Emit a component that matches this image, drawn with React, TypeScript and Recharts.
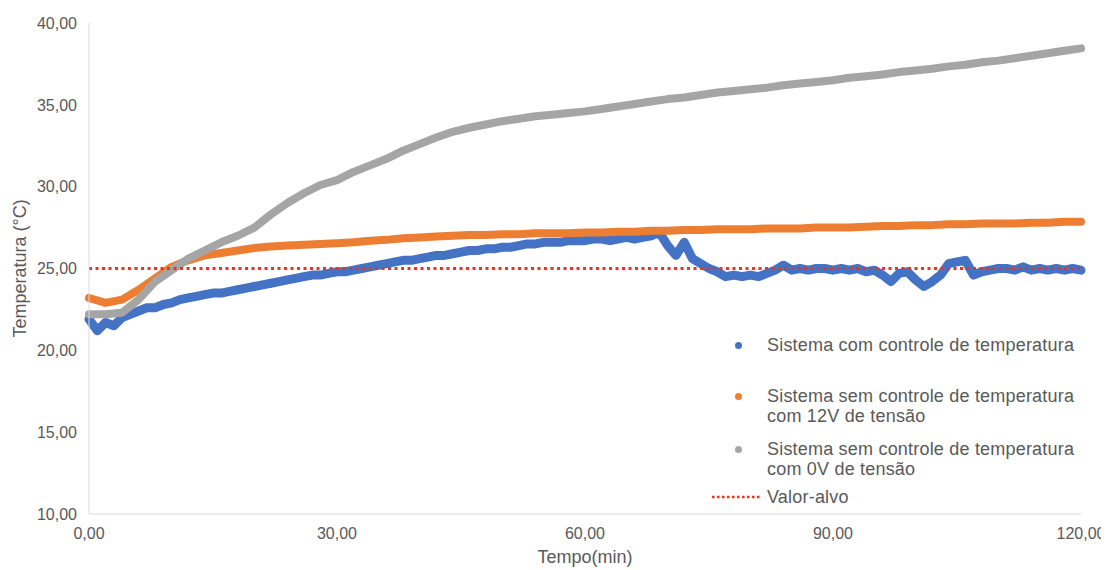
import { LineChart, Line, XAxis, YAxis, Label } from "recharts";

// tempo (min) das leituras
const minutos1 = [
  0, 1, 2, 3, 4, 5, 6, 7, 8, 9, 10, 11, 12, 13, 14, 15, 16, 17, 18, 19, 20,
  21, 22, 23, 24, 25, 26, 27, 28, 29, 30, 31, 32, 33, 34, 35, 36, 37, 38, 39, 40,
  41, 42, 43, 44, 45, 46, 47, 48, 49, 50, 51, 52, 53, 54, 55, 56, 57, 58, 59, 60,
  61, 62, 63, 64, 65, 66, 67, 68, 69, 70, 71, 72, 73, 74, 75, 76, 77, 78, 79, 80,
  81, 82, 83, 84, 85, 86, 87, 88, 89, 90, 91, 92, 93, 94, 95, 96, 97, 98, 99, 100,
  101, 102, 103, 104, 105, 106, 107, 108, 109, 110, 111, 112, 113, 114, 115, 116, 117, 118, 119, 120,
];
const minutos2 = [
  0, 2, 4, 6, 8, 10, 12, 14, 16, 18, 20, 22, 24, 26, 28, 30, 32, 34, 36, 38, 40,
  42, 44, 46, 48, 50, 52, 54, 56, 58, 60, 62, 64, 66, 68, 70, 72, 74, 76, 78, 80,
  82, 84, 86, 88, 90, 92, 94, 96, 98, 100, 102, 104, 106, 108, 110, 112, 114, 116, 118, 120,
];

// Sistema com controle de temperatura (a cada 1 min)
const comControle = [
  21.9, 21.2, 21.7, 21.5, 22.0, 22.2, 22.4, 22.6, 22.6, 22.8, 22.9,
  23.1, 23.2, 23.3, 23.4, 23.5, 23.5, 23.6, 23.7, 23.8, 23.9,
  24.0, 24.1, 24.2, 24.3, 24.4, 24.5, 24.6, 24.6, 24.7, 24.8,
  24.8, 24.9, 25.0, 25.1, 25.2, 25.3, 25.4, 25.5, 25.5, 25.6,
  25.7, 25.8, 25.8, 25.9, 26.0, 26.1, 26.1, 26.2, 26.2, 26.3,
  26.3, 26.4, 26.5, 26.5, 26.6, 26.6, 26.6, 26.7, 26.7, 26.7,
  26.8, 26.8, 26.7, 26.8, 26.9, 26.8, 26.9, 27.0, 27.2, 26.4,
  25.8, 26.6, 25.6, 25.3, 25.0, 24.8, 24.5, 24.6, 24.5, 24.6,
  24.5, 24.7, 24.9, 25.2, 24.9, 25.0, 24.9, 25.0, 25.0, 24.9,
  25.0, 24.9, 25.0, 24.8, 24.9, 24.6, 24.2, 24.7, 24.8, 24.3,
  23.9, 24.2, 24.6, 25.3, 25.4, 25.5, 24.6, 24.8, 24.9, 25.0,
  25.0, 24.9, 25.1, 24.9, 25.0, 24.9, 25.0, 24.9, 25.0, 24.9,
];

// Sistema sem controle, 12V (a cada 2 min)
const semControle12V = [
  23.2, 22.9, 23.1, 23.7, 24.4, 25.1, 25.5, 25.8, 25.95, 26.1, 26.25,
  26.35, 26.4, 26.45, 26.5, 26.55, 26.6, 26.7, 26.75, 26.85, 26.9,
  26.95, 27.0, 27.05, 27.05, 27.1, 27.1, 27.15, 27.15, 27.15, 27.2,
  27.2, 27.25, 27.25, 27.3, 27.3, 27.35, 27.35, 27.4, 27.4, 27.4,
  27.45, 27.45, 27.45, 27.5, 27.5, 27.5, 27.55, 27.6, 27.6, 27.65,
  27.65, 27.7, 27.7, 27.75, 27.75, 27.75, 27.8, 27.8, 27.85, 27.85,
];

// Sistema sem controle, 0V (a cada 2 min)
const semControle0V = [
  22.2, 22.2, 22.3, 23.1, 24.2, 24.9, 25.6, 26.1, 26.6, 27.0, 27.5,
  28.3, 29.0, 29.6, 30.1, 30.4, 30.9, 31.3, 31.7, 32.2, 32.6,
  33.0, 33.35, 33.6, 33.8, 34.0, 34.15, 34.3, 34.4, 34.5, 34.6,
  34.75, 34.9, 35.05, 35.2, 35.35, 35.45, 35.6, 35.75, 35.85, 35.95,
  36.05, 36.2, 36.3, 36.4, 36.5, 36.65, 36.75, 36.85, 37.0, 37.1,
  37.2, 37.35, 37.45, 37.6, 37.7, 37.85, 38.0, 38.15, 38.3, 38.45,
];

const alvoTempo = [0, 120];
const alvoValor = [25, 25];

const ticksX = [0, 30, 60, 90, 120];
const ticksY = [10, 15, 20, 25, 30, 35, 40];

const nomes = [
  ["Sistema com controle de temperatura"],
  ["Sistema sem controle de temperatura", "com 12V de tensão"],
  ["Sistema sem controle de temperatura", "com 0V de tensão"],
  ["Valor-alvo"],
];
const cores = ["#4472C4", "#ED7D31", "#A5A5A5", "#F2301E"];

const dadosAzul = minutos1.map((t, i) => ({ t, v: comControle[i] }));
const dadosLaranja = minutos2.map((t, i) => ({ t, v: semControle12V[i] }));
const dadosCinza = minutos2.map((t, i) => ({ t, v: semControle0V[i] }));
const dadosAlvo = alvoTempo.map((t, i) => ({ t, v: alvoValor[i] }));

const FONT = '"Liberation Sans", Arial, sans-serif';
const TEXT = "#595959";
const fmt = (v: number) => v.toFixed(2).replace(".", ",");

function Legenda() {
  const espacos = [0, 31, 13, 8];
  return (
    <div
      style={{
        position: "absolute",
        left: 704,
        top: 327,
        fontFamily: FONT,
        fontSize: 18,
        letterSpacing: 0.2,
        color: TEXT,
        lineHeight: "20px",
      }}
    >
      {nomes.map((linhas, i) => (
        <div key={i} style={{ display: "flex", marginTop: espacos[i] }}>
          <div style={{ width: 55, height: 20, position: "relative", flexShrink: 0 }}>
            {i < 3 ? (
              <span
                style={{
                  position: "absolute",
                  left: 23,
                  top: 7,
                  width: 7,
                  height: 7,
                  borderRadius: "50%",
                  background: cores[i],
                }}
              />
            ) : (
              <svg width={48} height={20} style={{ position: "absolute", left: 0, top: 0 }}>
                <line x1={0} x2={48} y1={10} y2={10} stroke={cores[i]} strokeWidth={2.5} strokeDasharray="2.5 2.5" />
              </svg>
            )}
          </div>
          <div style={{ whiteSpace: "nowrap" }}>
            {linhas.map((l, j) => (
              <div key={j}>{l}</div>
            ))}
          </div>
        </div>
      ))}
    </div>
  );
}

export default function App() {
  const serie = {
    type: "linear" as const,
    dataKey: "v",
    dot: false,
    strokeWidth: 8,
    strokeLinecap: "round" as const,
    strokeLinejoin: "round" as const,
    isAnimationActive: false,
  };
  return (
    <div style={{ position: "relative", width: 1101, height: 562, background: "#fff" }}>
      <LineChart width={1101} height={562} margin={{ top: 15, right: 28, left: 0, bottom: 0 }}>
        <XAxis
          dataKey="t"
          type="number"
          domain={[0, 120]}
          ticks={ticksX}
          tickFormatter={fmt}
          height={56}
          tickSize={0}
          tickMargin={14}
          axisLine={{ stroke: "#D9D9D9" }}
          tickLine={false}
          tick={{ fill: TEXT, fontSize: 16, fontFamily: FONT }}
          allowDuplicatedCategory={false}
        >
          <Label
            content={({ viewBox }: any) => (
              <text
                x={viewBox.x + viewBox.width / 2}
                y={viewBox.y + 49}
                textAnchor="middle"
                fill={TEXT}
                fontSize={18}
                fontFamily={FONT}
              >
                Tempo(min)
              </text>
            )}
          />
        </XAxis>
        <YAxis
          type="number"
          domain={[10, 40]}
          ticks={ticksY}
          tickFormatter={fmt}
          width={81}
          tickSize={0}
          tickMargin={12}
          axisLine={{ stroke: "#D9D9D9" }}
          tickLine={false}
          tick={{ fill: TEXT, fontSize: 16, fontFamily: FONT }}
        >
          <Label
            content={({ viewBox }: any) => {
              const cx = viewBox.x + 12;
              const cy = viewBox.y + viewBox.height / 2;
              return (
                <text
                  x={cx}
                  y={cy}
                  transform={`rotate(-90 ${cx} ${cy})`}
                  textAnchor="middle"
                  dominantBaseline="central"
                  fill={TEXT}
                  fontSize={18}
                  fontFamily={FONT}
                >
                  Temperatura (°C)
                </text>
              );
            }}
          />
        </YAxis>
        <Line {...serie} data={dadosAzul} name={nomes[0].join(" ")} stroke={cores[0]} strokeWidth={9} />
        <Line {...serie} data={dadosLaranja} name={nomes[1].join(" ")} stroke={cores[1]} />
        <Line {...serie} data={dadosCinza} name={nomes[2].join(" ")} stroke={cores[2]} />
        <Line
          type="linear"
          data={dadosAlvo}
          dataKey="v"
          name={nomes[3][0]}
          dot={false}
          stroke={cores[3]}
          strokeWidth={3}
          strokeDasharray="3 3.5"
          isAnimationActive={false}
        />
      </LineChart>
      <Legenda />
    </div>
  );
}
